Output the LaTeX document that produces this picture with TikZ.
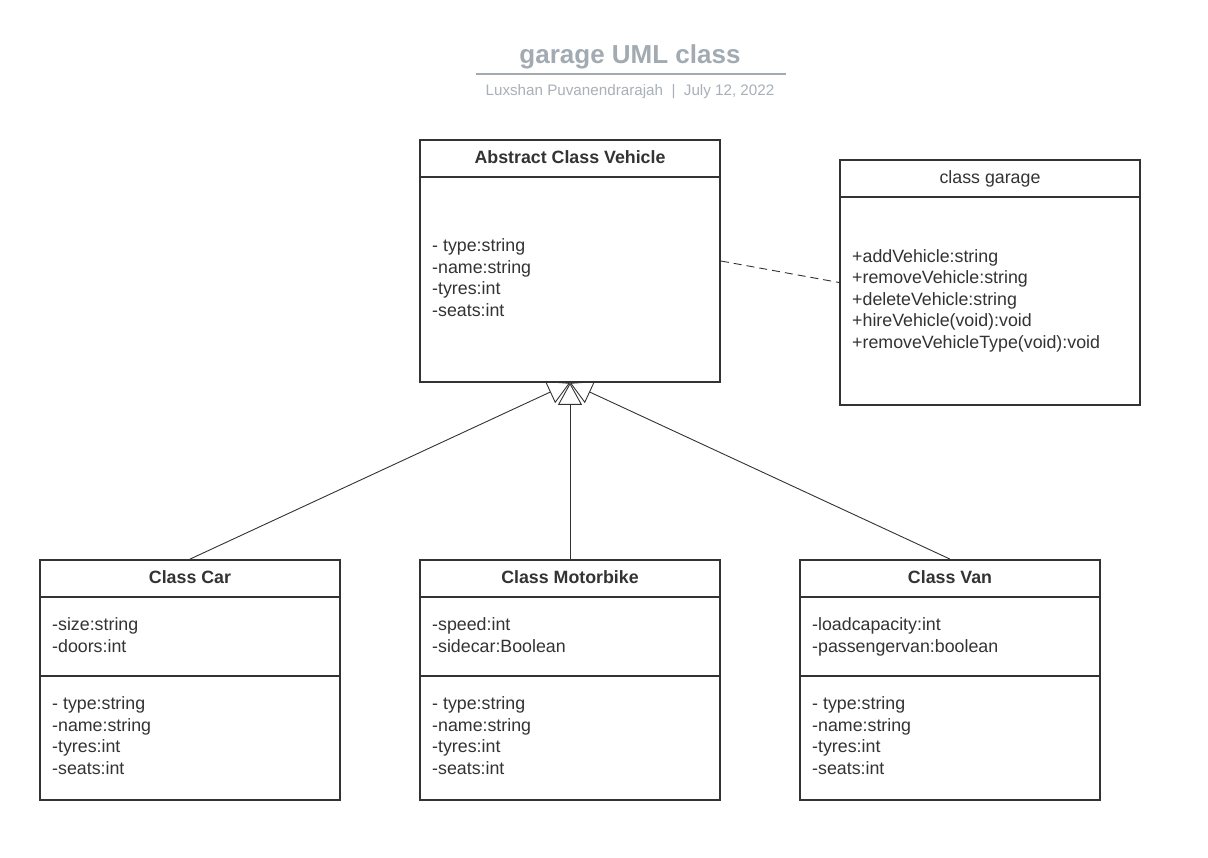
\documentclass[tikz,border=0pt]{standalone}
\usepackage{fontspec}
\setmainfont{Liberation Sans}
\usetikzlibrary{arrows.meta}

\definecolor{umlline}{HTML}{333333}
\definecolor{titlegray}{HTML}{A2AAB2}
\definecolor{subgray}{HTML}{A9B0B7}

\tikzset{
  classbox/.style={draw=umlline, line width=1.8pt, minimum width=300pt, inner sep=0pt},
  classname/.style={font=\fontsize{17.8}{21}\selectfont\bfseries, text=umlline, anchor=base},
  classplain/.style={font=\fontsize{17.8}{21}\selectfont, text=umlline, anchor=base},
  members/.style={font=\fontsize{17.8}{21.6}\selectfont, text=umlline, align=left, anchor=base west, inner sep=0pt},
  divider/.style={draw=umlline, line width=1.8pt},
  inherits/.style={draw=umlline, line width=0.9pt, -{Triangle[open, length=22pt, width=24pt, line width=0.9pt]}},
  assoc/.style={draw=umlline, line width=0.9pt, dash pattern=on 8pt off 5pt},
}

\begin{document}
\begin{tikzpicture}[x=1pt, y=-1pt]
  \useasboundingbox[fill=white] (0,0) rectangle (1208,858);

  % title block
  \node[font=\fontsize{26}{30}\selectfont\bfseries, text=titlegray, anchor=base] (title) at (630,63.5) {garage UML class};
  \draw[titlegray, line width=2pt] (476,74) -- (786,74);
  \node[font=\fontsize{15.2}{18}\selectfont, text=subgray, anchor=base] (subtitle) at (630,96) {Luxshan Puvanendrarajah\ \ |\ \ July 12, 2022};

  % abstract class (members placed by the baseline of their last line)
  \node[classbox, minimum height=242pt] (vehicle) at (570,261) {};
  \node[classname] (vehicleH) at ([yshift=-24pt]vehicle.north) {Abstract Class Vehicle};
  \draw[divider] ([yshift=-38pt]vehicle.north west) -- ([yshift=-38pt]vehicle.north east);
  \node[members] (vehicleA) at (432,316.5) {- type:string\\-name:string\\-tyres:int\\-seats:int};

  % garage
  \node[classbox, minimum height=245pt] (garage) at (990,282.5) {};
  \node[classplain] (garageH) at ([yshift=-24pt]garage.north) {class garage};
  \draw[divider] ([yshift=-38pt]garage.north west) -- ([yshift=-38pt]garage.north east);
  \node[members] (garageM) at (852,348.5) {+addVehicle:string\\+removeVehicle:string\\+deleteVehicle:string\\+hireVehicle(void):void\\+removeVehicleType(void):void};

  % subclasses
  \node[classbox, minimum height=240pt] (car) at (190,680) {};
  \node[classname] (carH) at ([yshift=-24pt]car.north) {Class Car};
  \draw[divider] ([yshift=-38pt]car.north west) -- ([yshift=-38pt]car.north east);
  \draw[divider] ([yshift=-117pt]car.north west) -- ([yshift=-117pt]car.north east);
  \node[members] (carA) at (52,652.5) {-size:string\\-doors:int};
  \node[members] (carB) at (52,774.5) {- type:string\\-name:string\\-tyres:int\\-seats:int};

  \node[classbox, minimum height=240pt] (bike) at (570,680) {};
  \node[classname] (bikeH) at ([yshift=-24pt]bike.north) {Class Motorbike};
  \draw[divider] ([yshift=-38pt]bike.north west) -- ([yshift=-38pt]bike.north east);
  \draw[divider] ([yshift=-117pt]bike.north west) -- ([yshift=-117pt]bike.north east);
  \node[members] (bikeA) at (432,652.5) {-speed:int\\-sidecar:Boolean};
  \node[members] (bikeB) at (432,774.5) {- type:string\\-name:string\\-tyres:int\\-seats:int};

  \node[classbox, minimum height=240pt] (van) at (950,680) {};
  \node[classname] (vanH) at ([yshift=-24pt]van.north) {Class Van};
  \draw[divider] ([yshift=-38pt]van.north west) -- ([yshift=-38pt]van.north east);
  \draw[divider] ([yshift=-117pt]van.north west) -- ([yshift=-117pt]van.north east);
  \node[members] (vanA) at (812,652.5) {-loadcapacity:int\\-passengervan:boolean};
  \node[members] (vanB) at (812,774.5) {- type:string\\-name:string\\-tyres:int\\-seats:int};

  % connectors
  \draw[assoc] (vehicle.east) -- (garage.west);
  \draw[inherits] (car.north) -- (vehicle.south);
  \draw[inherits] (bike.north) -- (vehicle.south);
  \draw[inherits] (van.north) -- (vehicle.south);
\end{tikzpicture}
\end{document}
